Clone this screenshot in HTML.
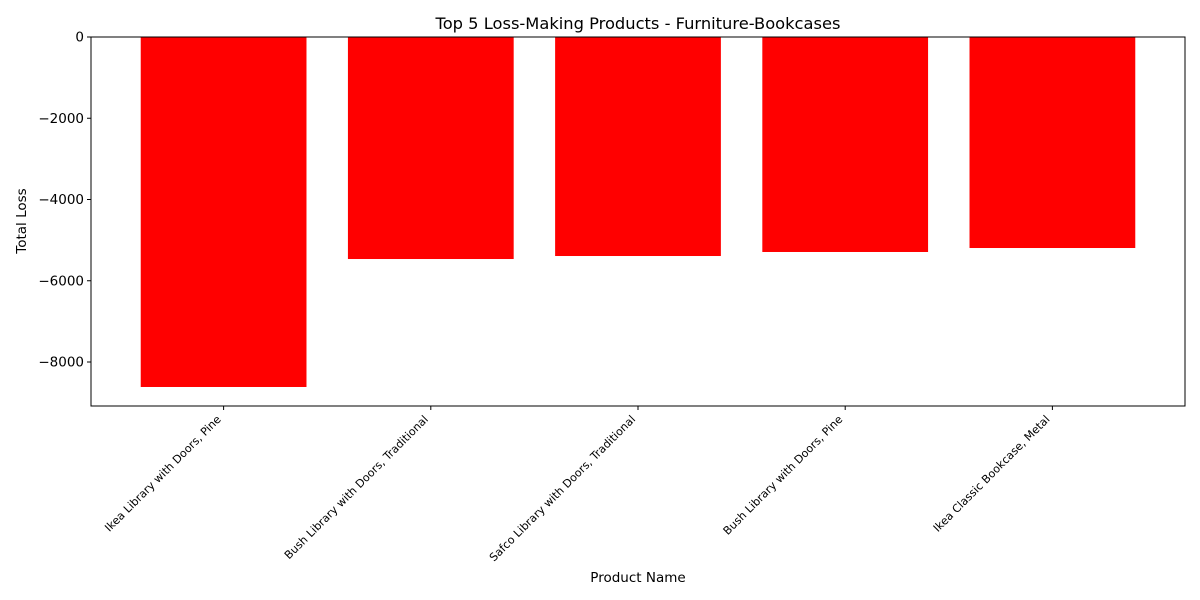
<!DOCTYPE html>
<html><head><meta charset="utf-8"><style>body{margin:0;background:#fff}svg{display:block;font-family:"DejaVu Sans","Liberation Sans",sans-serif}</style></head>
<body>
<svg id="chart" width="1200" height="600" viewBox="0 0 1200 600" xmlns="http://www.w3.org/2000/svg">
<text x="638" y="29" text-anchor="middle" font-size="16.3">Top 5 Loss-Making Products - Furniture-Bookcases</text>
<text x="638" y="582" text-anchor="middle" font-size="13.5">Product Name</text>
<text transform="translate(26,221) rotate(-90)" text-anchor="middle" font-size="13.5">Total Loss</text>
<g id="bars"></g><g id="xt"></g><g id="yt"></g>
<rect x="91" y="37" width="1094" height="369" fill="none" stroke="#000" stroke-width="1"/>
</svg>
<script>
const categories = ["Ikea Library with Doors, Pine","Bush Library with Doors, Traditional","Safco Library with Doors, Traditional","Bush Library with Doors, Pine","Ikea Classic Bookcase, Metal"];
const losses = [-8615, -5465, -5391, -5292, -5194];
const yTicks = [0, -2000, -4000, -6000, -8000];
const yTickLabels = ["0", "\u22122000", "\u22124000", "\u22126000", "\u22128000"];
const NS = "http://www.w3.org/2000/svg";
const L=91,R=1185,T=37,B=406;
const xMin=-0.64,xMax=categories.length-1+0.64;
const yMax=0,yMin=-9083;
const xs=v=>L+(v-xMin)/(xMax-xMin)*(R-L);
const ys=v=>T+(yMax-v)/(yMax-yMin)*(B-T);
function mk(t,a,p){const e=document.createElementNS(NS,t);for(const k in a)e.setAttribute(k,a[k]);p.appendChild(e);return e;}
const bars=document.getElementById('bars'),xt=document.getElementById('xt'),yt=document.getElementById('yt');
losses.forEach((v,i)=>{
  const x0=xs(i-0.4),x1=xs(i+0.4),y0=ys(0),y1=ys(v);
  const r=mk('rect',{x:x0,y:Math.min(y0,y1),width:x1-x0,height:Math.abs(y1-y0),fill:'#ff0000'},bars);
  
  
  const cx=xs(i);
  const tk=mk('line',{x1:cx,x2:cx,y1:B,y2:B+4,stroke:'#000'},xt);
  
  
  const tx=mk('text',{transform:`translate(${cx-2},${B+14}) rotate(-45)`,'text-anchor':'end','font-size':'11.1'},xt);
  tx.textContent=categories[i];
  
  
});
yTicks.forEach((v,i)=>{
  const y=ys(v);
  const tk=mk('line',{x1:L-4,x2:L,y1:y,y2:y,stroke:'#000'},yt);
  
  
  const tx=mk('text',{x:L-7,y:y+4.5,'text-anchor':'end','font-size':'13.5'},yt);
  tx.textContent=yTickLabels[i];
  
  
});
</script>
</body></html>
